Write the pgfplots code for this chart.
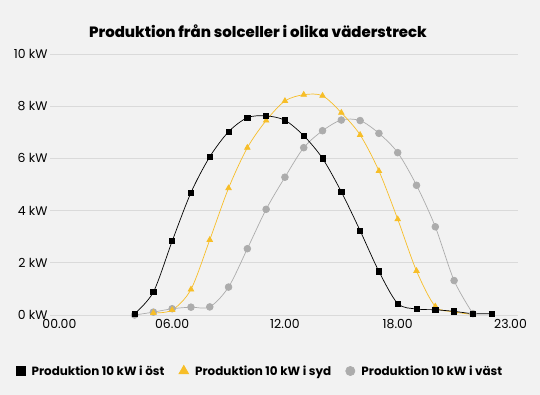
\documentclass[border=0pt]{standalone}
\usepackage{fontspec}
\setmainfont{Poppins}
\newfontfamily\heavyfont{Poppins ExtraBold}
\usepackage{pgfplots}
\pgfplotsset{compat=1.18}
\definecolor{bg}{RGB}{242,242,242}
\definecolor{gridc}{RGB}{218,218,218}
\definecolor{syd}{RGB}{247,190,40}
\definecolor{vast}{RGB}{172,172,172}
\begin{document}
\begin{tikzpicture}
\fill[bg] (0,0) rectangle (540bp,395bp);
\useasboundingbox (0,0) rectangle (540bp,395bp);
\node[font=\heavyfont\fontsize{15}{18}\selectfont] at (258bp,364bp) {Produktion från solceller i olika väderstreck};
\begin{axis}[
  at={(50bp,80bp)}, anchor=south west, scale only axis,
  width=468bp, height=261bp,
  xmin=-0.5, xmax=24.4, ymin=0, ymax=10,
  axis line style={draw=none},
  major tick style={draw=none},
  ymajorgrids, grid style={gridc, line width=0.8pt},
  ytick={0,2,4,6,8,10},
  yticklabels={0 kW,2 kW,4 kW,6 kW,8 kW,10 kW},
  xtick={0,6,12,18,24},
  xticklabels={00.00,06.00,12.00,18.00,23.00},
  tick label style={font=\fontsize{12.5}{14}\selectfont},
  yticklabel style={xshift=1bp},
  xticklabel style={yshift=-1bp},
  legend columns=3, reverse legend,
  legend style={at={(0.449,-0.2146)}, anchor=center, draw=none, fill=none,
    font=\bfseries\fontsize{12}{14}\selectfont, column sep=5bp,
    /tikz/every even column/.append style={column sep=13bp},
    nodes={inner sep=1.5bp}},
  legend image code/.code={\path[#1] plot coordinates {(0bp,0bp)};},
]
\addplot[vast, line width=0.7pt, smooth, tension=0.5, mark=*, mark size=3.4pt, mark options={fill=vast, draw=vast},
  legend image post style={mark size=4.6bp}]
  coordinates {(4,0.0)(5,0.11)(6,0.24)(7,0.30)(8,0.31)(9,1.07)(10,2.54)(11,4.05)(12,5.28)(13,6.41)(14,7.06)(15,7.47)(16,7.45)(17,6.96)(18,6.22)(19,4.97)(20,3.38)(21,1.32)(22,0.05)};
\addlegendentry{Produktion 10 kW i väst}
\addplot[syd, line width=0.7pt, smooth, tension=0.5, mark=triangle*, mark size=3.2pt, mark options={fill=syd, draw=syd},
  legend image post style={mark size=5.6bp}]
  coordinates {(5,0.08)(6,0.19)(7,0.98)(8,2.88)(9,4.86)(10,6.41)(11,7.45)(12,8.20)(13,8.44)(14,8.40)(15,7.75)(16,6.90)(17,5.52)(18,3.67)(19,1.69)(20,0.33)(21,0.12)(22,0.02)};
\addlegendentry{Produktion 10 kW i syd}
\addplot[black, line width=0.7pt, smooth, tension=0.5, mark=square*, mark size=2.6pt, mark options={fill=black, draw=black},
  legend image post style={mark size=4.3bp}]
  coordinates {(4,0.05)(5,0.88)(6,2.83)(7,4.69)(8,6.06)(9,7.02)(10,7.56)(11,7.63)(12,7.46)(13,6.87)(14,6.00)(15,4.72)(16,3.23)(17,1.67)(18,0.44)(19,0.23)(20,0.20)(21,0.14)(22,0.05)(23,0.05)};
\addlegendentry{Produktion 10 kW i öst}
\end{axis}
\end{tikzpicture}
\end{document}
